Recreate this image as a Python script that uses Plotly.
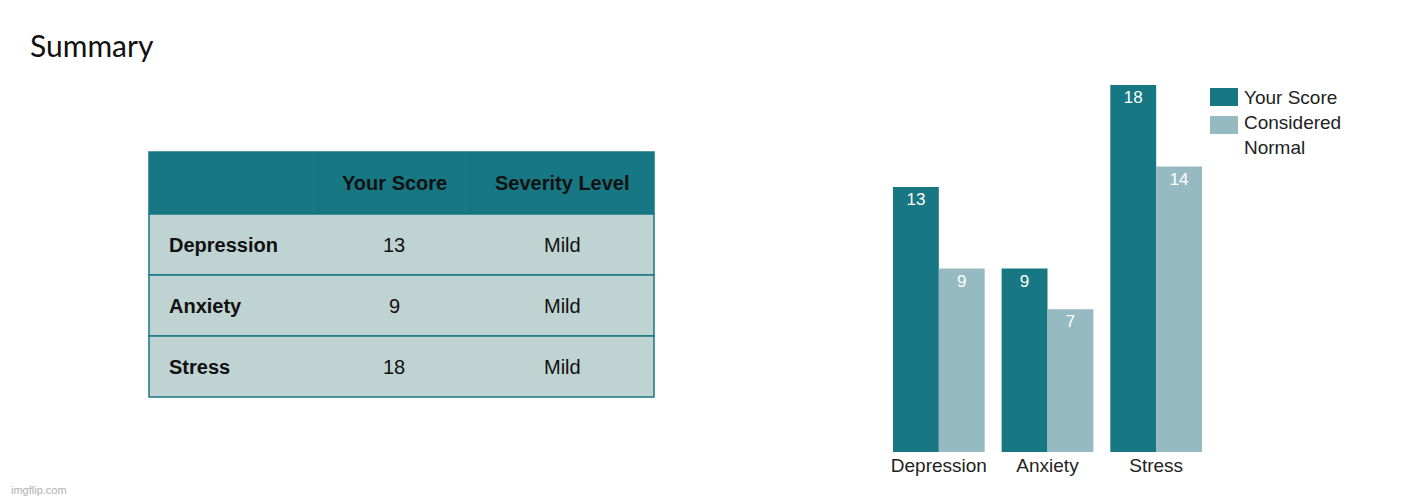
import plotly.graph_objects as go

# ---- data ----
categories = ["Depression", "Anxiety", "Stress"]
your_score = [13, 9, 18]
considered_normal = [9, 7, 14]
severity = ["Mild", "Mild", "Mild"]
series_names = ["Your Score", "Considered Normal"]
table_header = ["", "Your Score", "Severity Level"]
title_text = "Summary"

DARK = "#177884"
DARK_LINE = "#136c77"
LIGHT = "#96BAC1"
ROW = "#C0D3D3"

# page offset (body margin of 8px) compensated: figure is 1420x492
OFF = 8
W, H = 1428 - OFF, 500 - OFF

def px(x):
    return (x - OFF) / W

def py(y):
    return (H - (y - OFF)) / H

FONT = "Arial, Liberation Sans"

fig = go.Figure()

# ---- bars ----
fig.add_trace(go.Bar(
    x=categories, y=your_score, name=series_names[0],
    marker=dict(color=DARK, line=dict(width=0)),
    text=[str(v) for v in your_score], textposition="inside",
    insidetextanchor="end", textangle=0,
    textfont=dict(family=FONT, size=17, color="white"),
    showlegend=False,
))
fig.add_trace(go.Bar(
    x=categories, y=considered_normal, name=series_names[1],
    marker=dict(color=LIGHT, line=dict(width=0)),
    text=[str(v) for v in considered_normal], textposition="inside",
    insidetextanchor="end", textangle=0,
    textfont=dict(family=FONT, size=17, color="white"),
    showlegend=False,
))

shapes = []
annotations = []

# ---- table (drawn with shapes + text) ----
tx0, tx1 = 149, 654
col_edges = [149, 318, 470, 654]
header_y = (152, 214)
row_h = 61
# header
shapes.append(dict(type="rect", xref="paper", yref="paper",
                   x0=px(tx0), x1=px(tx1), y0=py(header_y[1]), y1=py(header_y[0]),
                   fillcolor=DARK, line=dict(color=DARK, width=1.5), layer="below"))
for ce in col_edges[1:-1]:
    shapes.append(dict(type="line", xref="paper", yref="paper",
                       x0=px(ce), x1=px(ce), y0=py(header_y[1]), y1=py(header_y[0]),
                       line=dict(color=DARK_LINE, width=1)))
hy = (header_y[0] + header_y[1]) / 2
for i, h in enumerate(table_header):
    if not h:
        continue
    cx = (col_edges[i] + col_edges[i + 1]) / 2
    annotations.append(dict(text="<b>%s</b>" % h, xref="paper", yref="paper",
                            x=px(cx), y=py(hy), xanchor="center", yanchor="middle",
                            showarrow=False, font=dict(family=FONT, size=20, color="#111")))
# rows
for r, cat in enumerate(categories):
    y0 = header_y[1] + r * row_h
    y1 = y0 + row_h
    shapes.append(dict(type="rect", xref="paper", yref="paper",
                       x0=px(tx0), x1=px(tx1), y0=py(y1), y1=py(y0),
                       fillcolor=ROW, line=dict(color=DARK, width=1.5), layer="below"))
    cy = (y0 + y1) / 2
    annotations.append(dict(text="<b>%s</b>" % cat, xref="paper", yref="paper",
                            x=px(167), y=py(cy), xanchor="left", yanchor="middle",
                            showarrow=False, font=dict(family=FONT, size=20, color="#111")))
    annotations.append(dict(text=str(your_score[r]), xref="paper", yref="paper",
                            x=px((col_edges[1] + col_edges[2]) / 2), y=py(cy),
                            xanchor="center", yanchor="middle",
                            showarrow=False, font=dict(family=FONT, size=20, color="#111")))
    annotations.append(dict(text=severity[r], xref="paper", yref="paper",
                            x=px((col_edges[2] + col_edges[3]) / 2), y=py(cy),
                            xanchor="center", yanchor="middle",
                            showarrow=False, font=dict(family=FONT, size=20, color="#111")))

# ---- manual legend ----
legend_items = [(series_names[0], DARK, 88, 106, 97),
                ("Considered<br>Normal", LIGHT, 116, 134, 135)]
for label, col, y0, y1, ty in legend_items:
    shapes.append(dict(type="rect", xref="paper", yref="paper",
                       x0=px(1210), x1=px(1238), y0=py(y1), y1=py(y0),
                       fillcolor=col, line=dict(width=0)))
    annotations.append(dict(text=label, xref="paper", yref="paper",
                            x=px(1242), y=py(ty), xanchor="left", yanchor="middle",
                            align="left", showarrow=False,
                            font=dict(family=FONT, size=19, color="#222")))

annotations.append(dict(text=title_text, xref="paper", yref="paper",
                        x=px(28), y=py(45), xanchor="left", yanchor="middle",
                        showarrow=False,
                        font=dict(family="Lato, Noto Sans", size=30, color="#111")))
annotations.append(dict(text="imgflip.com", xref="paper", yref="paper",
                        x=px(9), y=py(490), xanchor="left", yanchor="middle",
                        showarrow=False,
                        font=dict(family=FONT, size=11, color="#b0b0b0")))

fig.update_layout(
    width=W, height=H,
    margin=dict(l=0, r=0, t=0, b=0),
    paper_bgcolor="white", plot_bgcolor="white",
    barmode="group", bargap=0.156, bargroupgap=0,
    xaxis=dict(domain=[px(884.5), px(1210.5)], type="category",
               showgrid=False, zeroline=False, showline=False, ticks="",
               tickfont=dict(family=FONT, size=19, color="#222")),
    yaxis=dict(domain=[py(452), py(85)], range=[0, 18], visible=False,
               showgrid=False, zeroline=False),
    shapes=shapes, annotations=annotations,
    showlegend=False,
)

fig.write_html("out.html")
